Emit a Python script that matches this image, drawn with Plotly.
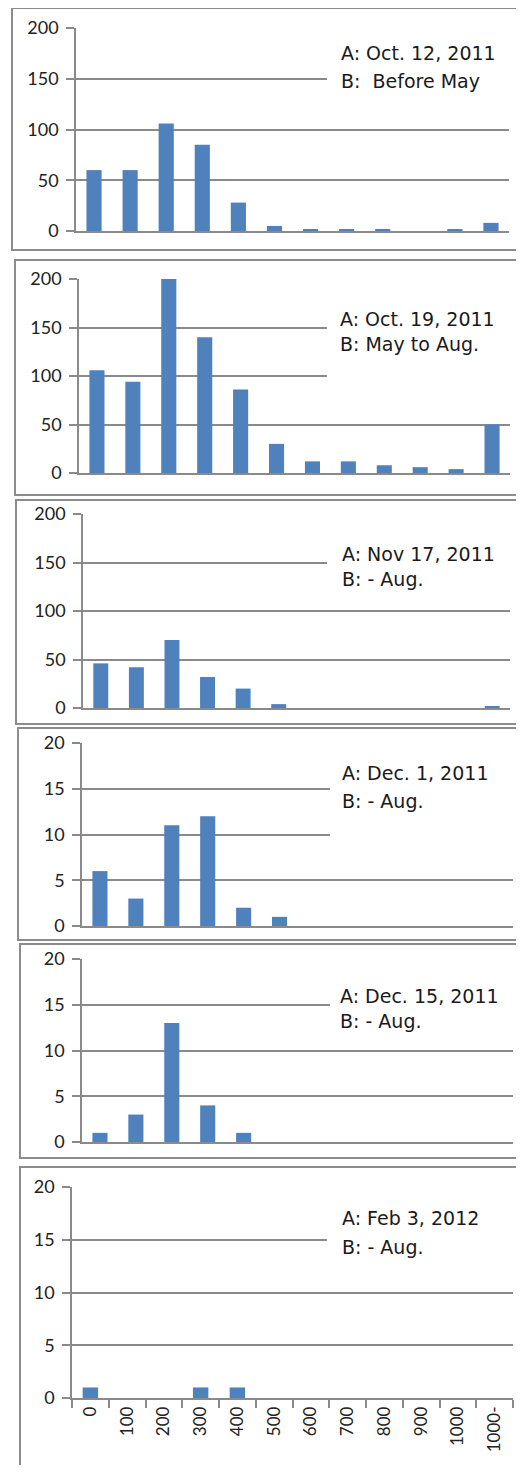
import plotly.graph_objects as go

# The page body adds an 8px margin, so the figure is sized to fit inside the
# window without scrolling and reference pixel positions are shifted by OFF.
OFF = 8
W, H = 524 - OFF, 1473 - 2 * OFF

categories = ["0", "100", "200", "300", "400", "500", "600", "700", "800", "900", "1000", "1000-"]

oct12_2011 = [60, 60, 106, 85, 28, 5, 2, 2, 2, 0, 2, 8]
oct19_2011 = [106, 94, 200, 140, 86, 30, 12, 12, 8, 6, 4, 50]
nov17_2011 = [46, 42, 70, 32, 20, 4, 0, 0, 0, 0, 0, 2]
dec01_2011 = [6, 3, 11, 12, 2, 1, 0, 0, 0, 0, 0, 0]
dec15_2011 = [1, 3, 13, 4, 1, 0, 0, 0, 0, 0, 0, 0]
feb03_2012 = [1, 0, 0, 1, 1, 0, 0, 0, 0, 0, 0, 0]

series = [oct12_2011, oct19_2011, nov17_2011, dec01_2011, dec15_2011, feb03_2012]
label_a = ["A: Oct. 12, 2011", "A: Oct. 19, 2011", "A: Nov 17, 2011",
           "A: Dec. 1, 2011", "A: Dec. 15, 2011", "A: Feb 3, 2012"]
label_b = ["B:  Before May", "B: May to Aug.", "B: - Aug.", "B: - Aug.", "B: - Aug.", "B: - Aug."]
y_max = [200, 200, 200, 20, 20, 20]
y_step = [50, 50, 50, 5, 5, 5]

# layout geometry in reference pixels
plot_px = [  # x_left, x_right, y_top, y_bottom
    (76, 509, 28, 231),
    (79, 510, 279, 473),
    (83, 510, 514, 708),
    (82, 513, 743, 926),
    (82, 513, 959, 1142),
    (72, 513, 1187, 1398),
]
box_px = [  # left, right, top, bottom
    (12, 522, 8, 250),
    (15, 522, 260, 495),
    (16, 522, 500, 724),
    (18, 522, 728, 940),
    (20, 522, 944, 1158),
    (20, 522, 1167, 1490),
]
cover_px = [  # left, top, bottom of white label background
    (327, 36, 110),
    (327, 292, 400),
    (327, 526, 595),
    (330, 756, 860),
    (330, 970, 1035),
    (327, 1200, 1275),
]
# x, y of line A, y of line B, combined (one block) or separate lines
text_px = [
    (339, 53, 81, False),
    (338, 321, 341, True),
    (340, 556, 577, True),
    (340, 773, 801, False),
    (338, 997, 1020, True),
    (340, 1218, 1247, False),
]

def px(x):
    return (x - OFF) / W

def py(y):
    return 1 - (y - OFF) / H

GRID = "#8a8a8a"
BOX = "#8c8c8c"
BAR = "#4f81bd"
TXT_FONT = dict(family="DejaVu Sans", size=19, color="#1a1a1a")

fig = go.Figure()
shapes = []
annotations = []

for i, vals in enumerate(series):
    n = i + 1
    xa = "x" if n == 1 else f"x{n}"
    ya = "y" if n == 1 else f"y{n}"
    fig.add_trace(go.Bar(x=categories, y=vals, xaxis=xa, yaxis=ya,
                         marker=dict(color=BAR, line=dict(width=0)),
                         showlegend=False, width=0.42))
    xl, xr, yt, yb = plot_px[i]
    last = (n == 6)
    xkey = "xaxis" if n == 1 else f"xaxis{n}"
    ykey = "yaxis" if n == 1 else f"yaxis{n}"
    fig.update_layout(**{
        xkey: dict(domain=[px(xl), px(xr)], anchor=ya, type="category",
                   range=[-0.5, 11.5], showgrid=False, zeroline=False,
                   showline=True, linecolor=GRID, linewidth=1.5,
                   ticks="outside" if last else "", tickson="boundaries",
                   ticklen=8, tickcolor=GRID, tickwidth=1.5,
                   showticklabels=last, tickangle=-90, automargin=False,
                   tickfont=dict(family="Lato", size=17, color="#222222"),
                   fixedrange=True),
        ykey: dict(domain=[py(yb), py(yt)], anchor=xa,
                   range=[0, y_max[i]], dtick=y_step[i], tick0=0,
                   showgrid=True, gridcolor=GRID, gridwidth=1.5,
                   zeroline=False, showline=True, linecolor=GRID, linewidth=1.5,
                   ticks="outside", ticklen=8, tickcolor=GRID, tickwidth=1.5,
                   tickfont=dict(family="Lato", size=18, color="#222222"),
                   ticklabelstandoff=4, automargin=False, fixedrange=True),
    })
    bl, br, bt, bb = box_px[i]
    shapes.append(dict(type="rect", xref="paper", yref="paper",
                       x0=px(bl), x1=px(br), y0=py(bb), y1=py(bt),
                       line=dict(color=BOX, width=2), fillcolor="rgba(0,0,0,0)",
                       layer="above"))
    cl, ct, cb = cover_px[i]
    shapes.append(dict(type="rect", xref="paper", yref="paper",
                       x0=px(cl), x1=px(xr + 3), y0=py(cb), y1=py(ct),
                       line=dict(width=0), fillcolor="white", layer="above"))
    tx, tya, tyb, combined = text_px[i]
    if combined:
        annotations.append(dict(text=label_a[i] + "<br>" + label_b[i],
                                xref="paper", yref="paper", align="left",
                                x=px(tx), y=py((tya + tyb) / 2),
                                xanchor="left", yanchor="middle",
                                showarrow=False, font=TXT_FONT))
    else:
        for txt, ty in ((label_a[i], tya), (label_b[i], tyb)):
            annotations.append(dict(text=txt, xref="paper", yref="paper",
                                    x=px(tx), y=py(ty), xanchor="left", yanchor="middle",
                                    showarrow=False, font=TXT_FONT))

fig.update_layout(width=W, height=H, margin=dict(l=0, r=0, t=0, b=0, autoexpand=False),
                  paper_bgcolor="white", plot_bgcolor="white",
                  shapes=shapes, annotations=annotations, bargap=0.58)

fig.write_html("out.html", include_plotlyjs=True)
